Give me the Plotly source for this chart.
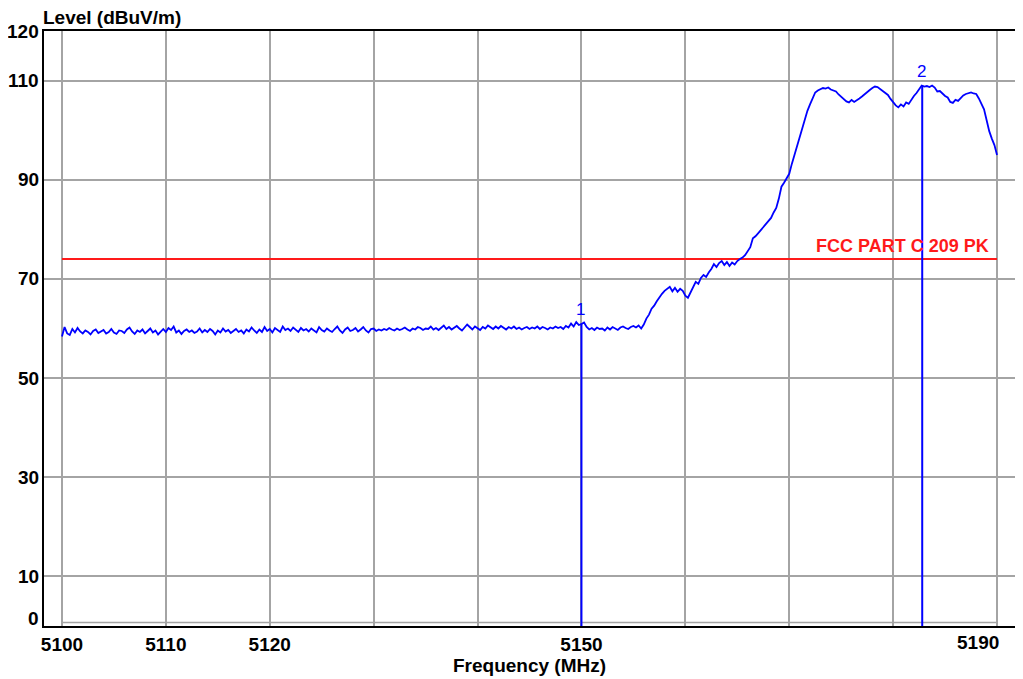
import numpy as np
import plotly.graph_objects as go

# ---------------- data ----------------
FREQ_START = 5100.0   # MHz
FREQ_STEP = 0.25      # MHz sweep step

# Level (dBuV/m) read from the sweep, 5100.00 ... 5155.75 MHz
level_flat = [
    58.4, 60.3, 59.0, 58.7, 59.9, 59.2, 60.1, 59.4,
    59.0, 59.6, 59.3, 58.8, 59.5, 59.8, 59.1, 59.4,
    59.7, 59.0, 59.3, 59.9, 59.2, 58.9, 59.6, 59.5,
    59.1, 59.8, 60.2, 59.4, 58.9, 59.6, 59.3, 59.8,
    59.0, 59.5, 60.0, 59.2, 59.6, 58.8, 59.4, 59.9,
    59.3, 60.1, 59.7, 60.4, 59.2, 59.6, 58.9, 59.5,
    59.8, 59.3, 59.6, 59.1, 59.4, 60.0, 59.2, 59.7,
    59.3, 59.9, 59.5, 58.8, 59.6, 59.2, 60.0, 59.4,
    59.7, 59.1, 59.5, 59.9, 59.3, 59.6, 59.0, 59.8,
    59.4, 60.2, 59.6, 59.1, 59.8, 59.3, 60.3, 59.5,
    59.9, 59.2, 60.1, 59.6, 59.3, 60.4, 59.7, 60.0,
    59.5, 60.2, 59.8, 59.3, 60.1, 59.6, 59.9, 59.4,
    60.0, 59.5, 59.2, 60.3, 59.7, 59.4, 60.0, 59.6,
    59.3, 59.9, 60.4, 59.6, 59.1, 59.8, 60.2, 59.5,
    59.7, 60.1, 59.4, 59.8, 60.3, 59.6, 59.2, 59.9,
    60.0, 59.5, 59.8, 59.6, 59.9, 59.7, 60.1, 59.8,
    59.6, 60.0, 59.7, 59.9, 60.2, 59.8, 59.5, 60.0,
    59.8, 60.3, 60.1, 59.7, 60.0, 59.9, 60.4, 59.8,
    60.1, 59.7, 60.2, 60.6, 59.9, 60.3, 59.8, 60.1,
    60.5, 60.0, 59.6, 60.2, 60.8, 60.3, 59.8, 60.4,
    60.1, 59.7, 60.3, 60.0, 60.6, 60.2, 59.9, 60.4,
    60.0, 60.5, 60.2, 59.8, 60.3, 60.0, 60.4, 59.9,
    60.2, 59.8, 60.1, 60.3, 59.9, 60.2, 60.0, 60.4,
    59.9, 60.3, 60.1, 59.8, 60.2, 60.0, 60.4, 60.1,
    60.3, 59.9, 60.5, 60.2, 61.0, 60.4, 61.3, 60.7,
    60.9, 61.2, 60.3, 59.8, 60.1, 59.7, 60.2, 59.9,
    60.0, 59.6, 60.2, 59.8, 60.3, 60.0, 59.7, 60.2,
    60.4, 60.1, 59.9, 60.3, 60.5, 60.2, 60.6, 60.0,
]

# Level (dBuV/m), 5156.00 ... 5190.00 MHz
level_band = [
    60.8, 62.0, 62.8, 64.0,
    64.6, 65.5, 66.4, 67.0,
    67.6, 68.0, 68.4, 67.5,
    68.2, 67.4, 68.0, 67.6,
    66.6, 66.2, 67.3, 68.5,
    69.4, 69.0, 70.2, 70.8,
    70.4, 71.3, 72.0, 73.0,
    72.4, 73.2, 73.6, 72.8,
    73.4, 72.6, 73.3, 72.9,
    73.6, 74.0, 74.3, 74.8,
    75.6, 76.4, 78.2, 78.6,
    79.2, 79.8, 80.4, 81.0,
    81.6, 82.3, 83.4, 84.3,
    86.2, 88.6, 89.4, 90.2,
    91.2, 93.2, 95.0, 96.8,
    98.6, 100.8, 102.3, 103.9,
    105.2, 106.6, 107.6, 108.0,
    108.3, 108.5, 108.4, 108.6,
    108.2, 108.0, 107.8, 107.2,
    106.7, 106.3, 105.8, 105.6,
    106.1, 105.7, 106.0, 106.4,
    106.8, 107.3, 107.7, 108.1,
    108.5, 108.8, 108.7, 108.3,
    108.0, 107.6, 107.1, 106.3,
    105.6, 105.0, 104.6, 105.2,
    104.8, 105.6, 105.3, 106.2,
    106.9, 107.5, 108.2, 109.0,
    108.8, 108.9, 108.7, 109.0,
    108.6, 107.8, 107.9, 107.3,
    106.9, 106.6, 105.7, 105.5,
    106.1, 105.9, 106.5, 107.0,
    107.3, 107.5, 107.6, 107.4,
    107.3, 106.4, 105.3, 104.2,
    102.0, 99.8, 98.3, 97.0,
    95.0,
]

marker_labels = ["1", "2"]
marker_freq = [5150.0, 5182.8]
marker_level = [61.0, 109.1]

limit_level = 74.0
limit_label = "FCC PART C 209 PK"
limit_freq_span = [5100, 5190]

x_tick_vals = [5100, 5110, 5120, 5130, 5140, 5150, 5160, 5170, 5180, 5190]
x_tick_text = ["5100", "5110", "5120", "", "", "5150", "", "", "", ""]
x_last_label = "5190"   # drawn right-aligned at the last grid line so it stays inside
y_grid_vals = [10, 30, 50, 70, 90, 110]
y_label_vals = [120, 110, 90, 70, 50, 30, 10, 0]

# ---------------- figure ----------------
level = level_flat + level_band
freq = FREQ_START + FREQ_STEP * np.arange(len(level))

FONT = "Liberation Sans, Arial, sans-serif"
BLUE = "#0000ff"
RED = "#ff1a1a"
GRID = "#a4a4a4"

fig = go.Figure()

# limit line
fig.add_trace(go.Scatter(x=limit_freq_span, y=[limit_level, limit_level], mode="lines",
                         line=dict(color=RED, width=2), hoverinfo="skip", showlegend=False))

# sweep trace
fig.add_trace(go.Scatter(x=freq, y=level, mode="lines",
                         line=dict(color=BLUE, width=1.8), showlegend=False))

# marker lines
for f, lv in zip(marker_freq, marker_level):
    fig.add_trace(go.Scatter(x=[f, f], y=[0, lv], mode="lines",
                             line=dict(color=BLUE, width=2), hoverinfo="skip", showlegend=False))

annotations = []
for lab, f, lv in zip(marker_labels, marker_freq, marker_level):
    annotations.append(dict(x=f, y=lv, xref="x", yref="y", text=lab, showarrow=False,
                            yanchor="middle", yshift=14, xshift=-1,
                            font=dict(family=FONT, size=17, color=BLUE)))

annotations.append(dict(x=5189.4, y=limit_level, xref="x", yref="y", text=f"<b>{limit_label}</b>",
                        showarrow=False, xanchor="right", yanchor="bottom", yshift=1,
                        font=dict(family=FONT, size=18, color=RED)))

for v in y_label_vals:
    shift = 8 if v == 0 else 0
    annotations.append(dict(x=0, y=v, xref="paper", yref="y", text=f"<b>{v}</b>", showarrow=False,
                            xanchor="right", yanchor="middle", xshift=-3, yshift=shift,
                            font=dict(family=FONT, size=19, color="black")))

annotations.append(dict(x=x_tick_vals[-1], y=0, xref="x", yref="paper", text=f"<b>{x_last_label}</b>",
                        showarrow=False, xanchor="right", yanchor="top", xshift=4, yshift=-4,
                        font=dict(family=FONT, size=19, color="black")))

annotations.append(dict(x=0, y=1, xref="paper", yref="paper", text="<b>Level (dBuV/m)</b>",
                        showarrow=False, xanchor="left", yanchor="bottom", xshift=-3, yshift=1,
                        font=dict(family=FONT, size=19, color="black")))

# inner gray bottom border of the grid area
shapes = [dict(type="line", xref="x", yref="paper", x0=5100, x1=5190, y0=0.006, y1=0.006,
               line=dict(color=GRID, width=1.5), layer="below")]

# the page body has an 8px margin, so the figure is sized/offset to compensate
fig.update_layout(
    width=1015, height=671, autosize=False,
    margin=dict(l=36, r=8, t=23, b=53, pad=0),
    paper_bgcolor="white", plot_bgcolor="white",
    showlegend=False,
    annotations=annotations,
    shapes=shapes,
    xaxis=dict(
        range=[5098.27, 5191.73], automargin=False,
        tickvals=x_tick_vals, ticktext=[f"<b>{t}</b>" if t else "" for t in x_tick_text],
        showgrid=True, gridcolor=GRID, gridwidth=1.5,
        showline=True, linecolor="black", linewidth=2, mirror=True,
        ticks="", zeroline=False,
        tickfont=dict(family=FONT, size=19, color="black"),
        title=dict(text="<b>Frequency (MHz)</b>", font=dict(family=FONT, size=19, color="black"),
                   standoff=4),
    ),
    yaxis=dict(
        range=[0, 120], automargin=False,
        tickvals=y_grid_vals, showticklabels=False,
        showgrid=True, gridcolor=GRID, gridwidth=1.5,
        showline=True, linecolor="black", linewidth=2, mirror=True,
        ticks="", zeroline=False,
    ),
)

fig.write_html("out.html")
